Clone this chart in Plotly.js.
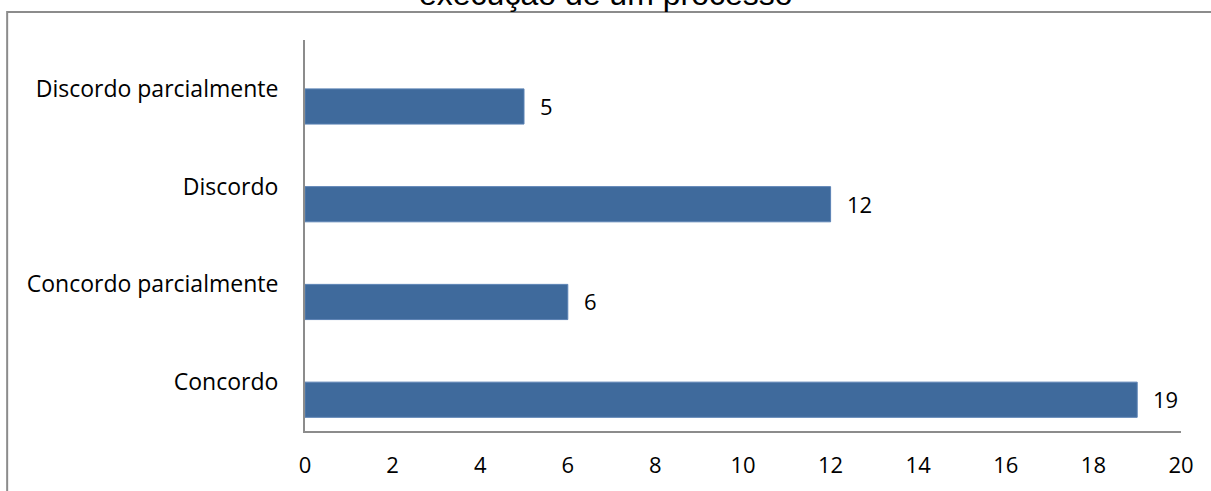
<!DOCTYPE html>
<html>
<head>
<meta charset="utf-8">
<script src="https://cdn.plot.ly/plotly-3.0.1.min.js"></script>
<style>html,body{margin:0;padding:0;background:#fff;}#chart{width:1211px;height:491px;}</style>
</head>
<body>
<div id="chart"></div>
<script>
const categories = ["Concordo", "Concordo parcialmente", "Discordo", "Discordo parcialmente"];
const values = [19, 6, 12, 5];
const titleText = "execução de um processo";
const xTicks = [0, 2, 4, 6, 8, 10, 12, 14, 16, 18, 20];

const font = "'Open Sans', sans-serif";

const trace = {
  type: "bar",
  orientation: "h",
  y: categories,
  x: values,
  width: 0.36,
  offset: -0.36,
  marker: {color: "#3F6A9C", line: {color: "#5B82B4", width: 1}},
  hoverinfo: "none"
};

const labelAnns = categories.map((c, i) => ({
  x: values[i], y: c, xref: "x", yref: "y",
  text: String(values[i]), showarrow: false,
  xanchor: "left", yanchor: "middle", xshift: 14, yshift: -17,
  font: {family: font, size: 22, color: "#000"}
}));

const layout = {
  width: 1211, height: 491,
  margin: {l: 305, r: 30, t: 40, b: 60},
  paper_bgcolor: "#fff", plot_bgcolor: "#fff",
  showlegend: false,
  xaxis: {
    range: [0, 20], tickvals: xTicks, ticktext: xTicks.map(String),
    showgrid: false, zeroline: false, showline: true, linecolor: "#8c8c8c", linewidth: 2,
    ticks: "", ticklen: 0, fixedrange: true, ticklabelstandoff: 14,
    tickfont: {family: font, size: 22, color: "#000"}
  },
  yaxis: {
    categoryorder: "array", categoryarray: categories, range: [-0.5, 3.5],
    showgrid: false, zeroline: false, showline: true, linecolor: "#8c8c8c", linewidth: 2,
    ticks: "", ticklen: 0, ticklabelstandoff: 20, fixedrange: true,
    tickfont: {family: font, size: 23, color: "#000"}
  },
  annotations: labelAnns.concat([{
    xref: "paper", yref: "paper", x: 0.344, y: 1.0665,
    xanchor: "center", yanchor: "bottom", showarrow: false,
    text: titleText,
    font: {family: "Liberation Sans, Arial, sans-serif", size: 32, color: "#000"}
  }]),
  shapes: [{
    type: "rect", xref: "paper", yref: "paper",
    x0: -0.340, x1: 1.2, y0: -0.3, y1: 1.0716,
    line: {color: "#8c8c8c", width: 2}, fillcolor: "rgba(0,0,0,0)", layer: "below"
  }]
};

Plotly.newPlot("chart", [trace], layout, {displayModeBar: false, staticPlot: true});
</script>
</body>
</html>
